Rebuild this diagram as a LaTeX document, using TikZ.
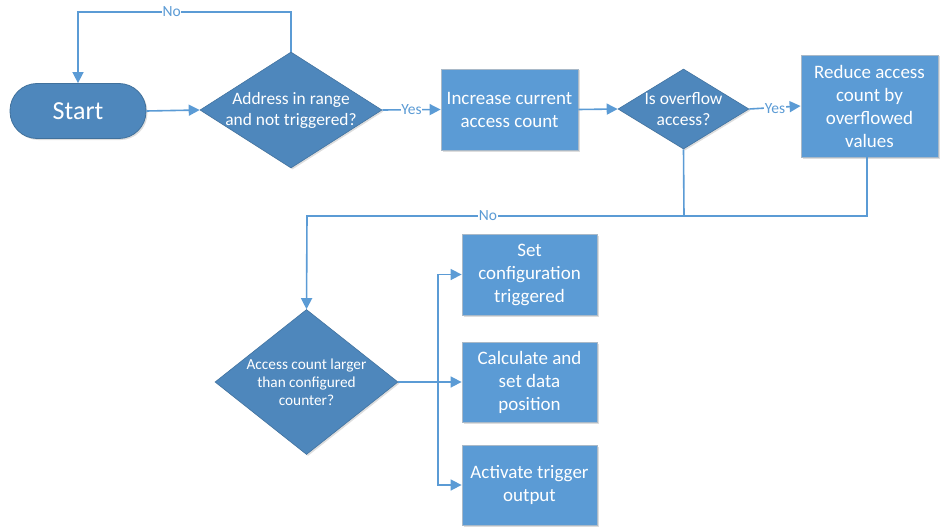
\documentclass[tikz,border=0pt]{standalone}
\usepackage{fontspec}
\setmainfont{Carlito}
\usetikzlibrary{shapes.geometric,arrows.meta,shadows}

\definecolor{boxblue}{HTML}{5B9BD5}
\definecolor{decblue}{HTML}{4E87BC}
\definecolor{decedge}{HTML}{41719C}
\definecolor{boxedge}{HTML}{A9B9C8}
\definecolor{flowline}{HTML}{5B9BD5}

\tikzset{
  soft shadow/.style={drop shadow={opacity=0.22,shadow xshift=1.5pt,shadow yshift=-1.5pt,fill=black!60}},
  procbox/.style={rectangle,fill=boxblue,draw=boxedge,line width=0.8pt,text=white,
    align=center,inner sep=0pt,soft shadow,
    font=\fontsize{19}{23}\selectfont},
  decision/.style={diamond,fill=decblue,draw=decblue!85!black,line width=0.6pt,
    inner sep=0pt,soft shadow},
  dectext/.style={text=white,align=center,inner sep=0pt},
  terminal/.style={rectangle,rounded corners=27pt,fill=decblue,draw=decedge,line width=0.8pt,
    text=white,minimum width=136pt,minimum height=55pt,soft shadow,
    font=\fontsize{26}{28}\selectfont},
  flow/.style={draw=flowline,line width=1.6pt},
  arr/.style={flow,-{Triangle[length=11pt,width=11pt]}},
  lab/.style={fill=white,text=flowline,inner sep=0.5pt,font=\fontsize{15.5}{16}\selectfont}
}

\begin{document}
\begin{tikzpicture}[x=1pt,y=-1pt]
  \useasboundingbox (0,0) rectangle (940,527);

  % nodes of the flow
  \node[terminal] (start) at (78,111) {Start};
  \node[decision,minimum width=182pt,minimum height=116pt,
        label={[dectext,font=\fontsize{17.4}{21}\selectfont]center:Address in range\\and not triggered?}]
        (d1) at (291,110) {};
  \node[procbox,minimum width=137pt,minimum height=81pt] (b1) at (509.5,109.5)
        {Increase current\\access count};
  \node[decision,minimum width=131pt,minimum height=80pt,
        label={[dectext,font=\fontsize{17.5}{21}\selectfont]center:Is overflow\\access?}]
        (d2) at (683.5,109) {};
  \node[procbox,minimum width=137pt,minimum height=102pt] (b3) at (869.5,106)
        {Reduce access\\count by\\overflowed\\values};
  \node[decision,minimum width=183pt,minimum height=145pt,
        label={[dectext,font=\fontsize{15.3}{18}\selectfont]center:Access count larger\\than configured\\counter?}]
        (d3) at (306.5,382) {};
  \node[procbox,minimum width=135pt,minimum height=81pt] (b4) at (529.5,274.5)
        {Set\\configuration\\triggered};
  \node[procbox,minimum width=135pt,minimum height=80pt] (b5) at (529.5,382)
        {Calculate and\\set data\\position};
  \node[procbox,minimum width=135pt,minimum height=80pt] (b6) at (529.5,485)
        {Activate trigger\\output};

  % routing points
  \coordinate (top) at (291,12);
  \coordinate (j2) at (684,216);
  \coordinate (j1) at (307,216);
  \coordinate (fork) at (438,382);

  % connectors
  \draw[arr] (start.east) -- (d1.west);
  \draw[arr] (d1.north) -- (top) -| node[lab,pos=0.28]{No} (start.north);
  \draw[arr] (d1.east) -- node[lab]{Yes} (b1.west);
  \draw[arr] (b1.east) -- (d2.west);
  \draw[arr] (d2.east) -- node[lab,yshift=-1pt]{Yes} (b3.west);
  \draw[flow] (d2.south) -- (j2);
  \draw[flow] (b3.south -| 867,0) |- (j2);
  \draw[arr] (j2) -- node[lab,pos=0.52]{No} (j1) -- (d3.north);
  \draw[flow] (d3.east) -- (fork);
  \draw[arr] (fork) |- (b4.west);
  \draw[arr] (fork) -- (b5.west);
  \draw[arr] (fork) |- (b6.west);
\end{tikzpicture}
\end{document}
